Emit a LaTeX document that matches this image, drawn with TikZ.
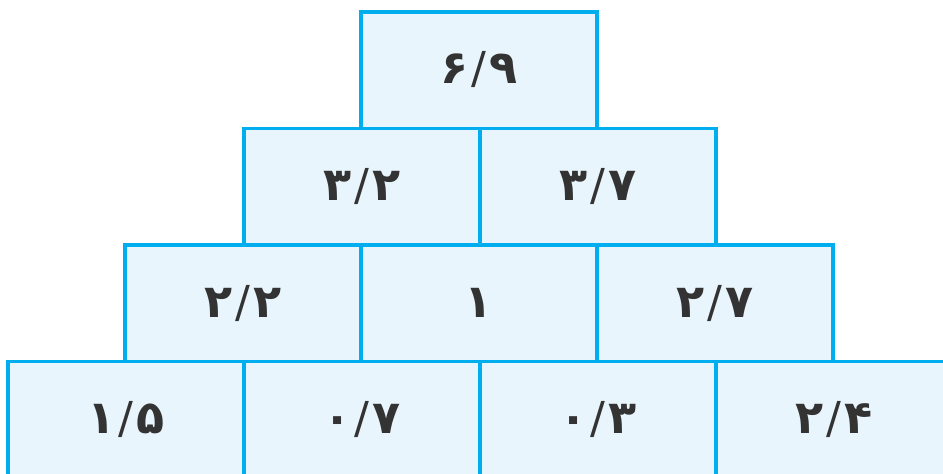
\documentclass[tikz,border=0pt]{standalone}
\usepackage{fontspec}
\newfontfamily\digitfont[Script=Arabic]{DejaVu Sans}
\newfontfamily\digitfontb[Script=Arabic]{DejaVu Sans Bold}
\newcommand{\dsep}{\kern3pt{\digitfont\fontsize{44}{50}\selectfont/}\kern3pt}
\definecolor{boxline}{HTML}{00AEEF}
\definecolor{boxfill}{HTML}{E8F5FC}
\definecolor{digitcol}{HTML}{333333}
\begin{document}
\begin{tikzpicture}[x=1pt,y=-1pt,
  cell/.style={rectangle, draw=boxline, fill=boxfill, line width=3.5pt,
    minimum width=236pt, minimum height=116.5pt, inner sep=0pt, text=digitcol,
    font=\digitfontb\fontsize{46}{50}\selectfont}]
\useasboundingbox (0,0) rectangle (943,474);
\clip (0,0) rectangle (943,474);
% row 1
\node[cell] (r1a) at (479,70) {۶\dsep۹};
% row 2
\node[cell] (r2a) at (362,186.5) {۳\dsep۲};
\node[cell] (r2b) at (598,186.5) {۳\dsep۷};
% row 3
\node[cell] (r3a) at (243,303) {۲\dsep۲};
\node[cell] (r3b) at (479,303) {۱};
\node[cell] (r3c) at (715,303) {۲\dsep۷};
% row 4
\node[cell] (r4a) at (126,419.5) {۱\dsep۵};
\node[cell] (r4b) at (362,419.5) {۰\dsep۷};
\node[cell] (r4c) at (598,419.5) {۰\dsep۳};
\node[cell] (r4d) at (834,419.5) {۲\dsep۴};
\end{tikzpicture}
\end{document}
